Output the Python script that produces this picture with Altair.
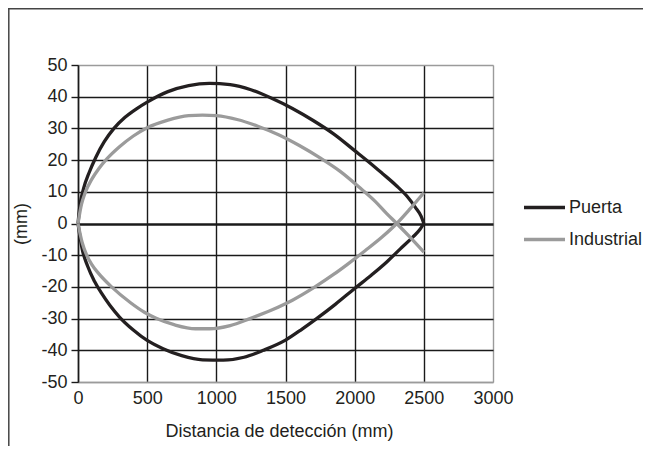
import altair as alt
import pandas as pd

# ---- data ----
series_names = ["Puerta", "Industrial"]
series_colors = ["#231f20", "#9b9b9b"]

puerta_upper_x = [0, 15, 40, 80, 130, 190, 260, 340, 420, 500, 650, 800, 950, 1100, 1250, 1400, 1550, 1700, 1850, 2000, 2100, 2200, 2300, 2380, 2440, 2480, 2500]
puerta_upper_y = [0, 6, 11, 16, 21, 25.8, 30, 33.5, 36.1, 38.3, 41.6, 43.5, 44.2, 43.8, 42.2, 39.5, 36.3, 32.5, 28.2, 23, 19.5, 15.8, 12, 8.5, 5, 2.3, 0]

puerta_lower_x = [0, 30, 70, 120, 170, 230, 300, 400, 500, 615, 750, 900, 1050, 1200, 1340, 1500, 1620, 1725, 1860, 2000, 2120, 2230, 2330, 2420, 2470, 2500]
puerta_lower_y = [0, -8, -13.5, -18.3, -22, -25.8, -29.5, -33.6, -36.9, -39.5, -41.7, -43, -43.1, -42.2, -40, -36.8, -33.3, -30, -25.5, -20.5, -16.3, -12.2, -8, -4.3, -2, 0]

industrial_upper_x = [0, 25, 50, 100, 150, 207, 300, 400, 500, 650, 800, 900, 1000, 1150, 1300, 1450, 1600, 1750, 1900, 2050, 2150, 2230, 2304, 2400, 2500]
industrial_upper_y = [0, 6, 9.5, 14, 17.3, 20.3, 24.2, 27.6, 30.2, 32.6, 34, 34.2, 34, 32.8, 30.7, 28, 24.6, 20.7, 16.3, 10.8, 6.9, 3.2, 0, -4.3, -9]

industrial_lower_x = [0, 30, 63, 100, 150, 243, 380, 480, 569, 700, 850, 950, 1100, 1243, 1400, 1550, 1713, 1850, 1950, 2075, 2200, 2304, 2400, 2500]
industrial_lower_y = [0, -6, -10, -13, -15.8, -20, -25, -28, -30, -32, -33.2, -33.2, -32.2, -30, -27.3, -24.2, -20, -16, -12.8, -8.6, -4.2, 0, 4.6, 9.7]

x_ticks = [0, 500, 1000, 1500, 2000, 2500, 3000]
y_ticks = [50, 40, 30, 20, 10, 0, -10, -20, -30, -40, -50]

rows = []
for name, branch, xs, ys in [
    ("Puerta", "upper", puerta_upper_x, puerta_upper_y),
    ("Puerta", "lower", puerta_lower_x, puerta_lower_y),
    ("Industrial", "upper", industrial_upper_x, industrial_upper_y),
    ("Industrial", "lower", industrial_lower_x, industrial_lower_y),
]:
    for i, (xv, yv) in enumerate(zip(xs, ys)):
        rows.append({"serie": name, "branch": name + "-" + branch, "x": xv, "y": yv, "i": i})
df = pd.DataFrame(rows)

W, H = 415, 317
FONT = "Liberation Sans"
TXT = "#231f20"
FS = 18

x_enc = alt.X(
    "x:Q",
    scale=alt.Scale(domain=[0, 3000], nice=False),
    axis=alt.Axis(
        values=x_ticks,
        labelExpr="'' + datum.value",
        labelFlush=False,
        labelOverlap=False,
        title="Distancia de detección (mm)",
        grid=True,
        gridColor=alt.condition("datum.value == 3000", alt.value("#9b9b9b"), alt.value("#1a1a1a")),
        gridWidth=1.4,
        domainColor="#9b9b9b",
        domainWidth=1.4,
        ticks=False,
        labelPadding=7,
        labelFontSize=FS,
        labelColor=TXT,
        labelFont=FONT,
        titleFont=FONT,
        titleFontSize=FS,
        titleFontWeight="normal",
        titleColor=TXT,
        titlePadding=15,
        titleX=201,
    ),
)
y_enc = alt.Y(
    "y:Q",
    scale=alt.Scale(domain=[-50, 50], nice=False),
    axis=alt.Axis(
        values=y_ticks,
        labelExpr="'' + datum.value",
        labelOverlap=False,
        labelFlush=False,
        labelBound=False,
        title="(mm)",
        grid=True,
        gridColor=alt.condition("datum.value == 50 || datum.value == -50", alt.value("#9b9b9b"), alt.value("#1a1a1a")),
        gridWidth=alt.condition("datum.value == 0", alt.value(2.5), alt.value(1.4)),
        domainColor="#1a1a1a",
        domainWidth=1.5,
        tickColor="#1a1a1a",
        tickSize=7,
        tickWidth=1.4,
        labelPadding=4,
        labelFontSize=FS,
        labelColor=TXT,
        labelFont=FONT,
        titleFont=FONT,
        titleFontSize=FS,
        titleFontWeight="normal",
        titleColor=TXT,
        titleX=-57,
        titleBaseline="middle",
    ),
)

frame_df = pd.DataFrame({"a": [0]})
frame_left = alt.Chart(frame_df).mark_rule(color="#444444", strokeWidth=1.5).encode(
    x=alt.value(-69.2), y=alt.value(-57), y2=alt.value(H + 300)
)
frame_top = alt.Chart(frame_df).mark_rule(color="#444444", strokeWidth=1.5).encode(
    x=alt.value(-70), x2=alt.value(W + 300), y=alt.value(-56.2)
)

lines = alt.Chart(df).mark_line(strokeWidth=3.3, interpolate="monotone").encode(
    x=x_enc,
    y=y_enc,
    color=alt.Color(
        "serie:N",
        scale=alt.Scale(domain=series_names, range=series_colors),
        legend=alt.Legend(
            title=None,
            orient="none",
            legendX=444,
            legendY=120,
            symbolType="stroke",
            symbolSize=1681,
            symbolStrokeWidth=3.3,
            labelFontSize=FS,
            labelFont=FONT,
            labelColor=TXT,
            labelOffset=2,
            rowPadding=-11,
        ),
    ),
    detail="branch:N",
    order="i:Q",
)

chart = alt.layer(lines, frame_left, frame_top).properties(
    width=W,
    height=H,
    autosize=alt.AutoSizeParams(type="none"),
    padding={"left": 70, "top": 57, "right": 150, "bottom": 64},
).configure_view(stroke=None).configure_axis(labelOverlap=False).configure(background="white")

chart.save("out.html", embed_options={"renderer": "svg", "actions": False})
